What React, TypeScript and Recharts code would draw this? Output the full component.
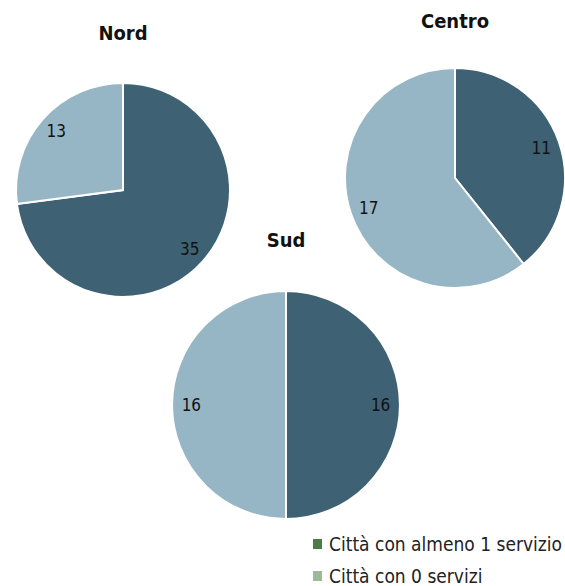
import { Legend, Pie, PieChart } from "recharts"

const regioni = ["Nord", "Centro", "Sud"]
const serie = ["Città con almeno 1 servizio", "Città con 0 servizi"]
const nordValori = [35, 13]
const centroValori = [11, 17]
const sudValori = [16, 16]

const coloriFette = ["#3e6174", "#96b6c5"]
const coloriLegenda = ["#4a7c45", "#9cba99"]
const FONT = "'Liberation Sans Narrow', 'DejaVu Sans Condensed', Roboto, sans-serif"
const RADIAN = Math.PI / 180

const toData = (valori: number[]) =>
  valori.map((v, i) => ({ name: serie[i], value: v, fill: coloriFette[i] }))

const pies = [
  { nome: regioni[0], data: toData(nordValori), cx: 123, cy: 190, r: 107, titoloY: 40 },
  { nome: regioni[1], data: toData(centroValori), cx: 455, cy: 178, r: 110, titoloY: 28 },
  { nome: regioni[2], data: toData(sudValori), cx: 286, cy: 405, r: 114, titoloY: 247 },
]

function renderLabel(props: any) {
  const { cx, cy, midAngle, outerRadius, value } = props
  const rr = outerRadius * 0.83
  const x = cx + rr * Math.cos(-midAngle * RADIAN)
  const y = cy + rr * Math.sin(-midAngle * RADIAN)
  return (
    <text x={x} y={y} fill="#111" fontSize={17} fontFamily={FONT} textAnchor="middle" dominantBaseline="central">
      {value}
    </text>
  )
}

function LegendaCustom() {
  return (
    <div style={{ fontFamily: FONT, fontSize: 19, color: "#222" }}>
      {serie.map((s, i) => (
        <div key={s} style={{ display: "flex", alignItems: "center", height: 32 }}>
          <span style={{ width: 9, height: 10, background: coloriLegenda[i], marginRight: 7, display: "inline-block" }} />
          {s}
        </div>
      ))}
    </div>
  )
}

export default function App() {
  return (
    <div style={{ position: "absolute", left: 0, top: 0, width: 565, height: 586, background: "#fff" }}>
      <PieChart width={565} height={586} margin={{ top: 0, right: 0, bottom: 0, left: 0 }}>
        {pies.map((p) => (
          <Pie
            key={p.nome}
            data={p.data}
            dataKey="value"
            nameKey="name"
            cx={p.cx}
            cy={p.cy}
            outerRadius={p.r}
            startAngle={90}
            endAngle={-270}
            stroke="#fff"
            strokeWidth={2}
            label={renderLabel}
            labelLine={false}
            isAnimationActive={false}
          />
        ))}
        {pies.map((p) => (
          <text
            key={"t" + p.nome}
            x={p.cx}
            y={p.titoloY}
            textAnchor="middle"
            fontFamily={FONT}
            fontWeight="bold"
            fontSize={20}
            fill="#111"
          >
            {p.nome}
          </text>
        ))}
        <Legend
          content={() => <LegendaCustom />}
          wrapperStyle={{ position: "absolute", left: 313, top: 528, width: 252, bottom: "auto" }}
        />
      </PieChart>
    </div>
  )
}
